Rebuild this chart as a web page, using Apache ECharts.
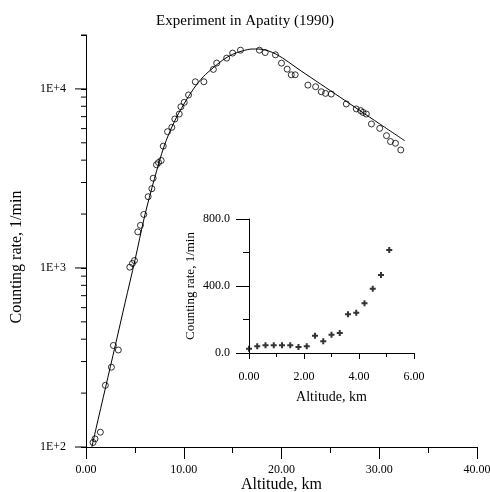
<!DOCTYPE html>
<html>
<head>
<meta charset="utf-8">
<script src="https://cdn.jsdelivr.net/npm/echarts@6/dist/echarts.min.js"></script>
<style>
  html, body { margin: 0; padding: 0; background: #fff; }
  #chart { width: 490px; height: 492px; }
</style>
</head>
<body>
<div id="chart"></div>
<script>
// measured points (circles), altitude km / counting rate 1/min
const altitudeKm = [0.72, 0.92, 1.47, 1.98, 2.6, 2.8, 3.31,
  4.48, 4.75, 4.96, 5.3, 5.57, 5.91, 6.36, 6.74, 6.87, 7.21, 7.42, 7.69, 7.9,
  8.34, 8.78, 9.09, 9.54, 9.71, 10.05, 10.49, 11.18, 12.06, 13.03, 13.37, 14.39,
  15.0, 15.8, 17.74, 18.33, 19.38, 20.0, 20.58, 21.0, 21.4, 22.7, 23.49, 24.07,
  24.5, 25.09, 26.63, 27.65, 28.1, 28.34, 28.68, 29.2, 30.05, 30.74, 31.15, 31.66, 32.2]
const countRate = [106, 111, 121, 221, 279, 369, 348,
  1010, 1060, 1100, 1590, 1730, 1990, 2500, 2770, 3170, 3770, 3880, 3980, 4790,
  5770, 6100, 6790, 7240, 7950, 8410, 9250, 10960, 10960, 12850, 13940, 14860,
  15850, 16450, 16450, 15960, 15500, 13930, 12890, 11990, 11990, 10500, 10280, 9640,
  9440, 9360, 8240, 7730, 7560, 7390, 7240, 6370, 6020, 5480, 5080, 4970, 4560]

// model curve
const modelAlt = [0.6, 1, 2, 3, 4, 5, 6, 7, 8, 9, 10, 11, 12, 13, 14, 15, 16, 17, 17.7, 19.45, 22, 24, 26, 28, 30, 32.6]
const modelRate = [100, 125, 215, 370, 640, 1100, 1950, 3150, 4800, 6500, 8200, 10000, 11700, 13100, 14500, 15600, 16300, 16700, 16700, 15630, 12600, 10640, 8980, 7580, 6400, 5140]

// inset (low altitudes, linear scale)
const insetAlt = [0, 0.3, 0.6, 0.9, 1.2, 1.5, 1.8, 2.1, 2.4, 2.7, 3.0, 3.3, 3.6, 3.9, 4.2, 4.5, 4.8, 5.1]
const insetRate = [26, 40, 46, 46, 46, 46, 36, 40, 103, 70, 109, 119, 231, 241, 297, 384, 466, 615]

// log axis ticks
const yMin = 100
const yMax = 20000
const yMajor = [100, 1000, 10000]
const yMinor = [200, 300, 400, 500, 600, 700, 800, 900, 2000, 3000, 4000, 5000, 6000, 7000, 8000, 9000, 20000]

const serif = '"Liberation Serif", "DejaVu Serif", serif'
const txt = { color: '#000', fontFamily: serif }
const black = { color: '#000', width: 1 }

const chart = echarts.init(document.getElementById('chart'), null, { renderer: 'canvas' })

// narrow strips left of the main y axis; tick marks are drawn inside them
const stripGrid = (len) => ({ left: 86 - len, top: 35, width: len, bottom: 45, outerBoundsMode: 'none' })
const stripX = (g) => ({ gridIndex: g, type: 'value', min: 0, max: 1, show: false })
const stripY = (g) => ({ gridIndex: g, type: 'log', min: yMin, max: yMax, show: false })
const tickLine = (v, axisIdx) => ({
  type: 'line', xAxisIndex: axisIdx, yAxisIndex: axisIdx,
  clip: false, silent: true, showSymbol: false, symbol: 'none',
  data: [[0, v], [1, v]],
  lineStyle: { color: '#000', width: 1 }
})

const option = {
  animation: false,
  backgroundColor: '#fff',
  title: {
    text: 'Experiment in Apatity (1990)',
    left: 'center',
    top: 9,
    textStyle: { ...txt, fontSize: 15, fontWeight: 'normal' }
  },
  graphic: [
    {
      type: 'text',
      x: 17, y: 257,
      rotation: Math.PI / 2,
      style: {
        text: 'Counting rate, 1/min',
        font: '16px "Liberation Serif", serif',
        fill: '#000',
        align: 'center', verticalAlign: 'middle'
      }
    }
  ],
  grid: [
    { left: 86, right: 13, top: 35, bottom: 45, outerBoundsMode: 'none' },
    { left: 249, top: 219, width: 165, height: 134, outerBoundsMode: 'none' },
    stripGrid(11),
    stripGrid(5)
  ],
  xAxis: [
    {
      gridIndex: 0, type: 'value', min: 0, max: 40, interval: 10,
      name: 'Altitude, km', nameLocation: 'middle', nameGap: 30, nameMoveOverlap: false,
      nameTextStyle: { ...txt, fontSize: 16 },
      axisLine: { lineStyle: black },
      axisTick: { length: 12, lineStyle: black },
      minorTick: { show: true, splitNumber: 2, length: 6, lineStyle: black },
      axisLabel: { ...txt, fontSize: 12, margin: 17, formatter: v => v.toFixed(2) },
      splitLine: { show: false }
    },
    {
      gridIndex: 1, type: 'value', min: 0, max: 6, interval: 2,
      name: 'Altitude, km', nameLocation: 'middle', nameGap: 37, nameMoveOverlap: false,
      nameTextStyle: { ...txt, fontSize: 14 },
      axisLine: { lineStyle: black },
      axisTick: { length: 6, lineStyle: black },
      minorTick: { show: true, splitNumber: 2, length: 4, lineStyle: black },
      axisLabel: { ...txt, fontSize: 12, margin: 18, formatter: v => v.toFixed(2) },
      splitLine: { show: false }
    },
    stripX(2),
    stripX(3)
  ],
  yAxis: [
    {
      gridIndex: 0, type: 'log', min: yMin, max: yMax,
      axisLine: { lineStyle: black },
      axisTick: { show: true, length: 5, lineStyle: black },
      axisLabel: {
        ...txt, fontSize: 12, margin: 20, customValues: yMajor,
        formatter: v => '1E+' + Math.round(Math.log10(v))
      },
      splitLine: { show: false }
    },
    {
      gridIndex: 1, type: 'value', min: 0, max: 800, interval: 400,
      name: 'Counting rate, 1/min', nameLocation: 'middle', nameGap: 52,
      nameTextStyle: { ...txt, fontSize: 13 },
      axisLine: { lineStyle: black },
      axisTick: { length: 13, lineStyle: black },
      minorTick: { show: true, splitNumber: 2, length: 6, lineStyle: black },
      axisLabel: { ...txt, fontSize: 12, margin: 19, formatter: v => v.toFixed(1) },
      splitLine: { show: false }
    },
    stripY(2),
    stripY(3)
  ],
  series: [
    ...yMajor.map(v => tickLine(v, 2)),
    ...yMinor.map(v => tickLine(v, 3)),
    {
      type: 'line',
      xAxisIndex: 0, yAxisIndex: 0,
      data: modelAlt.map((x, i) => [x, modelRate[i]]),
      showSymbol: false,
      smooth: 0.3,
      lineStyle: { color: '#000', width: 1 },
      z: 2
    },
    {
      type: 'scatter',
      xAxisIndex: 0, yAxisIndex: 0,
      data: altitudeKm.map((x, i) => [x, countRate[i]]),
      symbol: 'circle',
      symbolSize: 6,
      itemStyle: { color: 'rgba(0,0,0,0)', borderColor: '#000', borderWidth: 1 },
      z: 3
    },
    {
      type: 'scatter',
      xAxisIndex: 1, yAxisIndex: 1,
      data: insetAlt.map((x, i) => [x, insetRate[i]]),
      symbol: 'path://M2,0h2v2h2v2h-2v2h-2v-2h-2v-2h2z',
      symbolSize: 6,
      itemStyle: { color: '#000' }
    }
  ]
}

chart.setOption(option)
</script>
</body>
</html>
